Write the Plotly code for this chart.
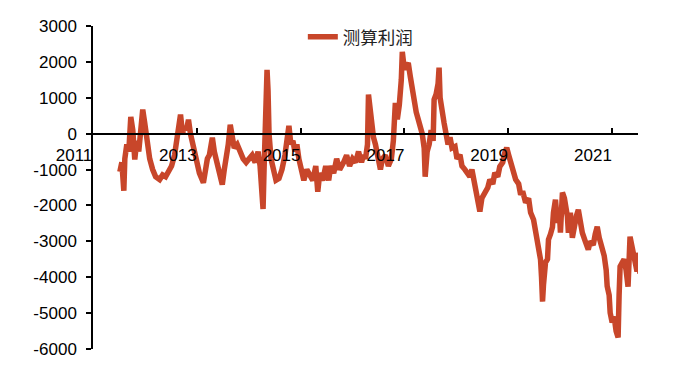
import pandas as pd
import plotly.graph_objects as go

# weeks elapsed since 2011-01-01
weeks = [27, 29, 31, 32, 34, 36, 38, 40, 42, 44, 46, 48, 50, 52, 54, 57, 60, 63, 67, 70,
         73, 76, 79, 82, 85, 88, 90, 92, 94, 96, 98, 101, 104, 107, 111, 113, 115, 117, 120, 122,
         124, 126, 128, 130, 132, 134, 136, 138, 140, 142, 145, 148, 151, 154, 157, 160, 163, 166, 168, 170,
         171, 172, 173, 174, 175, 176, 177, 179, 181, 184, 187, 190, 193, 195, 197, 199, 201, 203, 205, 207,
         209, 212, 215, 218, 221, 224, 226, 228, 231, 234, 237, 239, 242, 245, 248, 252, 255, 258, 261, 264,
         267, 270, 272, 274, 276, 277, 278, 280, 282, 284, 286, 289, 291, 294, 297, 300, 302, 304, 306, 308,
         310, 311, 313, 315, 317, 319, 321, 323, 325, 327, 329, 331, 333, 334, 336, 338, 340, 342, 343, 345,
         347, 348, 349, 351, 353, 355, 357, 359, 361, 364, 366, 369, 371, 374, 376, 379, 381, 384, 387, 389,
         391, 394, 397, 399, 402, 404, 407, 409, 412, 414, 416, 418, 421, 423, 425, 428, 430, 432, 435, 438,
         440, 443, 445, 447, 448, 450, 451, 452, 453, 455, 457, 458, 460, 462, 463, 465, 467, 469, 470, 472,
         474, 475, 477, 478, 480, 482, 484, 486, 488, 490, 492, 495, 498, 500, 503, 505, 507, 509, 512, 514,
         516, 517, 519, 520, 522, 524, 526, 528, 529, 530, 532, 534, 536, 538, 540, 541, 543, 545, 547, 548,
         549, 550]

profit = [-1060, -800, -1590, -700, -300, -500, 470, 100, -720, -200, -500, 300, 670, 300, -200, -700, -1000, -1200, -1280, -1150,
          -1200, -1050, -900, -600, -100, 530, 0, 200, 100, 390, 0, -400, -800, -1100, -1370, -1000, -700, -600, -110, -500,
          -700, -900, -1100, -1420, -1000, -700, -300, 250, -200, -400, -300, -500, -700, -800, -700, -600, -800, -500, -900, -1500,
          -2100, -1000, -200, 800, 1780, 1200, 0, -700, -1000, -1300, -1250, -1000, -600, -100, 220, -300, -200, -500, -300, -700,
          -1000, -1300, -1000, -1200, -1300, -900, -1620, -1100, -1300, -900, -1300, -900, -1100, -700, -1000, -800, -600, -900, -700, -800,
          -500, -800, -600, -700, -300, 1090, 800, 200, -100, -300, -600, -1000, -700, -600, -900, -700, -200, 860, 400, 800,
          1500, 2280, 1800, 1900, 1970, 1600, 1220, 900, 600, 400, 200, 0, -400, -1200, -500, -300, 100, -200, 950, 1100,
          1400, 1840, 1000, 470, 300, 0, -300, -100, -400, -360, -700, -590, -900, -1000, -1100, -1200, -1000, -1480, -1750, -2170,
          -1800, -1640, -1500, -1280, -1400, -1090, -1200, -920, -800, -530, -390, -600, -920, -1100, -1280, -1400, -1700, -1600, -1920, -1800,
          -2200, -2400, -2730, -2900, -3230, -3510, -4000, -4680, -4200, -3590, -3500, -2950, -2800, -2600, -2200, -1840, -2480, -2200, -2760, -1640,
          -1800, -1920, -2300, -2760, -2200, -2900, -2500, -2300, -2120, -2600, -2760, -3000, -3230, -3000, -3100, -2800, -2590, -2900, -3230, -3400,
          -3800, -4250, -4500, -4990, -5260, -5100, -5500, -5680, -4500, -3700, -3600, -3500, -3800, -4260, -2870, -3000, -3230, -3510, -3840, -3320,
          -3600, -3900]

series_name = "测算利润"
year_ticks = ["2011", "2013", "2015", "2017", "2019", "2021"]
y_ticks = [3000, 2000, 1000, 0, -1000, -2000, -3000, -4000, -5000, -6000]

start = pd.Timestamp("2011-01-01")
dates = [start + pd.Timedelta(days=7 * w) for w in weeks]

fig = go.Figure()
fig.add_trace(go.Scatter(x=dates, y=profit, mode="lines", name=series_name,
                         line=dict(color="#C8462A", width=5.5)))

fig.update_layout(
    width=691, height=392,
    margin=dict(l=85, r=61, t=18, b=51, autoexpand=False),
    paper_bgcolor="white", plot_bgcolor="white",
    font=dict(family="Liberation Sans, Arial, sans-serif", size=17, color="#000"),
    showlegend=True,
    legend=dict(orientation="h", x=0.385, y=0.966, xanchor="left", yanchor="middle",
                font=dict(family="Noto Sans CJK SC, sans-serif", size=17.5, color="#222"),
                bgcolor="rgba(0,0,0,0)"),
)

fig.update_xaxes(
    type="date", range=["2011-01-01", "2021-07-03"],
    anchor="free", position=2/3, automargin=False,
    showline=True, linecolor="#000", linewidth=1.5,
    ticks="inside", ticklen=5, tickcolor="#000", tickwidth=1.5,
    tickvals=[pd.Timestamp(y + "-01-01") for y in year_ticks], ticktext=year_ticks,
    ticklabelshift=-19, ticklabelstandoff=6,
    showgrid=False, zeroline=False,
)
fig.update_yaxes(
    range=[-6000, 3000], tickvals=y_ticks, ticktext=[str(v) for v in y_ticks],
    automargin=False,
    showline=True, linecolor="#000", linewidth=1.5,
    ticks="outside", ticklen=5, tickcolor="#000", tickwidth=1.5,
    ticklabelstandoff=6,
    showgrid=False, zeroline=False,
)

fig.write_html("out.html")
